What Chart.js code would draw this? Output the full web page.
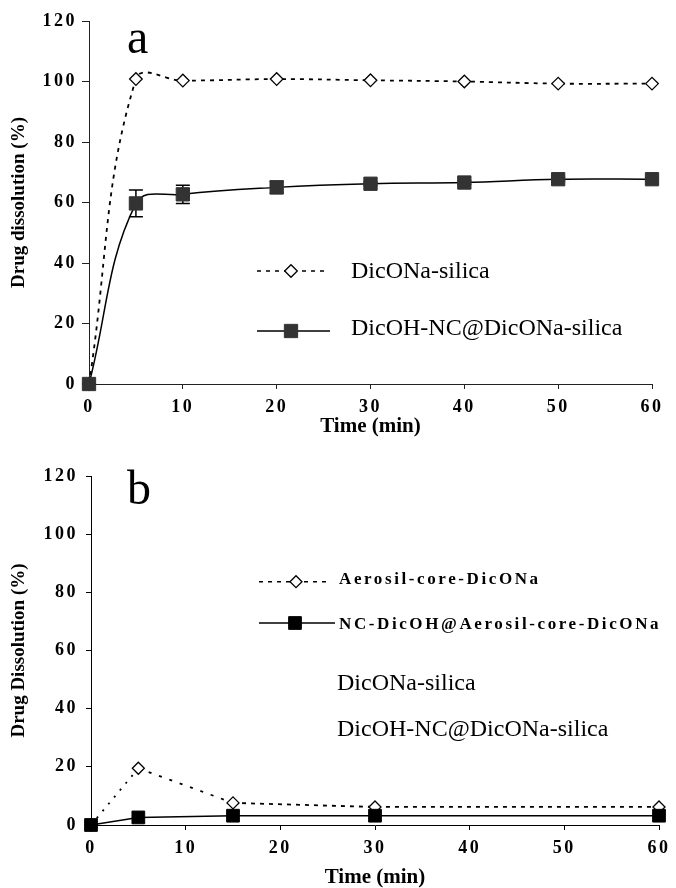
<!DOCTYPE html>
<html>
<head>
<meta charset="utf-8">
<script src="https://cdn.jsdelivr.net/npm/chart.js@4.4.0/dist/chart.umd.min.js"></script>
<style>
  html, body { margin: 0; padding: 0; background: #fff; }
  .panel { position: relative; width: 676px; height: 444px; }
  canvas { display: block; }
</style>
</head>
<body>
<div class="panel"><canvas id="chartA" width="676" height="444"></canvas></div>
<div class="panel"><canvas id="chartB" width="676" height="444"></canvas></div>
<script>
// panel a - dissolution from silica
const timeA = [0, 5, 10, 20, 30, 40, 50, 60];
const diconaSilica = [0, 100.8, 100.3, 100.8, 100.4, 100.0, 99.3, 99.3];
const ncSilica = [0, 59.7, 62.7, 65.0, 66.2, 66.6, 67.7, 67.7];
const ncSilicaErr = [0, 4.4, 3.0, 2.0, 0.6, 0.6, 0.6, 0.6];

// panel b - dissolution from aerosil core
const timeB = [0, 5, 15, 30, 60];
const aerosilCore = [0, 19.5, 7.6, 6.2, 6.2];
const ncAerosil = [0, 2.6, 3.2, 3.2, 3.2];

const labelsA = ['DicONa-silica', 'DicOH-NC@DicONa-silica'];
const labelsB = ['Aerosil-core-DicONa', 'NC-DicOH@Aerosil-core-DicONa'];

const SERIF = '"Liberation Serif", "Times New Roman", serif';
const pts = (xs, ys) => xs.map((x, i) => ({ x: x, y: ys[i] }));

// tick labels get spaced out, titles don't
const spacing = {
  id: 'spacing',
  beforeDraw(chart) { chart.ctx.letterSpacing = '0px'; },
  afterDatasetsDraw(chart) { chart.ctx.letterSpacing = '2.5px'; },
  afterDraw(chart) { chart.ctx.letterSpacing = '0px'; }
};

function makeScales(o) {
  return {
    x: {
      type: 'linear', min: 0, max: 60,
      afterFit: s => { s.height = o.xHeight; },
      ticks: { stepSize: 10, color: '#000', padding: o.xPad, z: 1, autoSkip: false, maxRotation: 0,
               font: { family: SERIF, size: 18, weight: 'bold' } },
      grid: { drawOnChartArea: false, drawTicks: true, tickLength: 5, color: o.axis, tickWidth: 1 },
      border: { display: true, color: o.axis, width: 1 },
      title: { display: true, text: 'Time (min)', color: '#000', padding: { top: 0, bottom: o.xTitlePad },
               font: { family: SERIF, size: 21, weight: 'bold', lineHeight: 1 } }
    },
    y: {
      type: 'linear', min: 0, max: 120,
      afterFit: s => { s.width = o.yWidth; },
      ticks: { stepSize: 20, color: '#000', padding: o.yPad, z: 1,
               font: { family: SERIF, size: 18, weight: 'bold' } },
      grid: { drawOnChartArea: false, drawTicks: true, tickLength: o.yTick, color: o.axis, tickWidth: 1 },
      border: { display: true, color: o.axis, width: 1 },
      title: { display: true, text: o.yTitle, color: '#000', padding: { top: 10, bottom: 0 },
               font: { family: SERIF, size: 19, weight: 'bold', lineHeight: 1 } }
    }
  };
}

// legend row: line sample, marker, label
function legendRow(ctx, item) {
  ctx.save();
  ctx.strokeStyle = '#000';
  ctx.lineWidth = 1.5;
  ctx.setLineDash(item.dash || []);
  ctx.beginPath();
  ctx.moveTo(item.x0, item.y);
  ctx.lineTo(item.x1, item.y);
  ctx.stroke();
  ctx.setLineDash([]);
  ctx.fillStyle = item.fill;
  ctx.strokeStyle = item.stroke;
  ctx.lineWidth = item.bw;
  Chart.helpers.drawPoint(ctx, { pointStyle: item.style, radius: item.r, borderWidth: item.bw, rotation: 0 }, item.mx, item.y);
  ctx.restore();
}

function text(ctx, str, x, y, font, spacingPx) {
  ctx.save();
  ctx.letterSpacing = spacingPx || '0px';
  ctx.font = font;
  ctx.fillStyle = '#000';
  ctx.textAlign = 'left';
  ctx.textBaseline = 'middle';
  ctx.fillText(str, x, y);
  ctx.restore();
}

const errorBars = {
  id: 'errorBars',
  beforeDatasetsDraw(chart) {
    const { ctx, scales: { x, y } } = chart;
    ctx.save();
    ctx.strokeStyle = '#000';
    ctx.lineWidth = 1.5;
    timeA.forEach((t, i) => {
      const e = ncSilicaErr[i];
      if (!e) return;
      const px = x.getPixelForValue(t);
      const top = y.getPixelForValue(ncSilica[i] + e);
      const bot = y.getPixelForValue(ncSilica[i] - e);
      ctx.beginPath();
      ctx.moveTo(px, top); ctx.lineTo(px, bot);
      ctx.moveTo(px - 7, top); ctx.lineTo(px + 7, top);
      ctx.moveTo(px - 7, bot); ctx.lineTo(px + 7, bot);
      ctx.stroke();
    });
    ctx.restore();
  }
};

const decorA = {
  id: 'decorA',
  afterDraw(chart) {
    const ctx = chart.ctx;
    text(ctx, 'a', 127, 40, '48px ' + SERIF);
    legendRow(ctx, { x0: 257, x1: 325, y: 271, mx: 291, dash: [4, 5], style: 'rectRot', r: 6.3, bw: 1.3, fill: '#fff', stroke: '#000' });
    legendRow(ctx, { x0: 257, x1: 330, y: 331, mx: 291, style: 'rect', r: 9.4, bw: 1, fill: '#333', stroke: '#333' });
    text(ctx, labelsA[0], 351, 271.5, '24px ' + SERIF);
    text(ctx, labelsA[1], 351, 329, '24px ' + SERIF);
  }
};

const decorB = {
  id: 'decorB',
  afterDraw(chart) {
    const ctx = chart.ctx;
    text(ctx, 'b', 127, 47, '48px ' + SERIF);
    legendRow(ctx, { x0: 259, x1: 328, y: 137.7, mx: 296, dash: [4, 5], style: 'rectRot', r: 6, bw: 1.3, fill: '#fff', stroke: '#000' });
    legendRow(ctx, { x0: 259, x1: 335, y: 179, mx: 295, style: 'rect', r: 9, bw: 1, fill: '#000', stroke: '#000' });
    text(ctx, labelsB[0], 339, 135.5, 'bold 17px ' + SERIF, '2.6px');
    text(ctx, labelsB[1], 339, 180.5, 'bold 17px ' + SERIF, '2.6px');
    // second label pair printed below the legend
    text(ctx, labelsA[0], 337, 239.3, '24px ' + SERIF);
    text(ctx, labelsA[1], 337, 286, '24px ' + SERIF);
  }
};

const common = {
  responsive: false,
  animation: false,
  events: [],
  plugins: { legend: { display: false }, tooltip: { enabled: false } }
};

new Chart(document.getElementById('chartA'), {
  type: 'line',
  data: {
    datasets: [
      {
        label: labelsA[1],
        data: pts(timeA, ncSilica),
        borderColor: '#000', borderWidth: 1.5, tension: 0.4, clip: false,
        pointStyle: 'rect', pointRadius: 9.4, pointBackgroundColor: '#333',
        pointBorderColor: '#333', pointBorderWidth: 1
      },
      {
        label: labelsA[0],
        data: pts(timeA, diconaSilica),
        borderColor: '#000', borderWidth: 1.8, borderDash: [4, 5], tension: 0.4, clip: false,
        pointStyle: 'rectRot', pointRadius: 6.3, pointBackgroundColor: '#fff',
        pointBorderColor: '#000', pointBorderWidth: 1.3
      }
    ]
  },
  options: Object.assign({}, common, {
    layout: { padding: { top: 21, right: 24, left: 0, bottom: 0 } },
    scales: makeScales({ xHeight: 60, yWidth: 89, xPad: 8, yPad: 5, yTick: 7, xTitlePad: 6.5,
                         axis: '#222', yTitle: 'Drug dissolution (%)' })
  }),
  plugins: [spacing, errorBars, decorA]
});

new Chart(document.getElementById('chartB'), {
  type: 'line',
  data: {
    datasets: [
      {
        label: labelsB[1],
        data: pts(timeB, ncAerosil),
        borderColor: '#000', borderWidth: 1.5, tension: 0, clip: false,
        pointStyle: 'rect', pointRadius: 9, pointBackgroundColor: '#000',
        pointBorderColor: '#000', pointBorderWidth: 1
      },
      {
        label: labelsB[0],
        data: pts(timeB, aerosilCore),
        borderColor: '#000', borderWidth: 1.8, borderDash: [4, 5], tension: 0, clip: false,
        segment: {
          borderDash: c => c.p0DataIndex === 0 ? [2, 7] : (c.p0DataIndex === 1 ? [3, 8] : undefined)
        },
        pointStyle: 'rectRot', pointRadius: 6, pointBackgroundColor: '#fff',
        pointBorderColor: '#000', pointBorderWidth: 1.3
      }
    ]
  },
  options: Object.assign({}, common, {
    layout: { padding: { top: 32, right: 12, left: 0, bottom: 0 } },
    scales: makeScales({ xHeight: 63, yWidth: 91, xPad: 8, yPad: 8, yTick: 5, xTitlePad: 0,
                         axis: '#000', yTitle: 'Drug Dissolution (%)' })
  }),
  plugins: [spacing, decorB]
});
</script>
</body>
</html>
